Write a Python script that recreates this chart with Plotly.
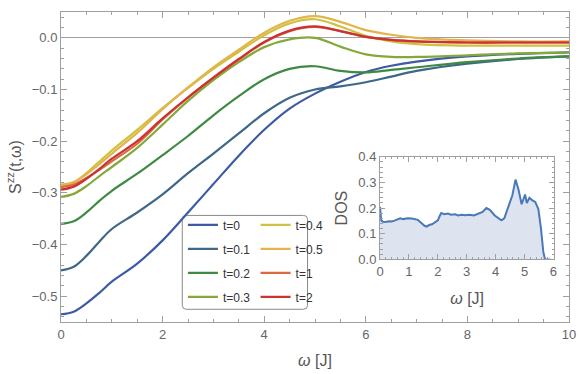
import plotly.graph_objects as go

# S^zz(t, w) curves
omega = [0, 0.25, 0.5, 0.75, 1, 1.5, 2, 2.5, 3, 3.5, 4, 4.5, 5, 5.5, 6, 6.5, 7, 8, 9, 10]

s_t0 = [-0.535, -0.53, -0.514, -0.494, -0.472, -0.437, -0.392, -0.338, -0.283, -0.228, -0.178, -0.137, -0.108, -0.085, -0.066, -0.054, -0.046, -0.036, -0.031, -0.028]
s_t01 = [-0.45, -0.443, -0.422, -0.395, -0.37, -0.338, -0.303, -0.262, -0.224, -0.185, -0.146, -0.116, -0.1, -0.094, -0.086, -0.075, -0.064, -0.05, -0.041, -0.036]
s_t02 = [-0.36, -0.355, -0.338, -0.316, -0.296, -0.263, -0.227, -0.19, -0.15, -0.113, -0.08, -0.06, -0.055, -0.064, -0.067, -0.062, -0.057, -0.047, -0.04, -0.036]
s_t03 = [-0.308, -0.302, -0.287, -0.268, -0.25, -0.213, -0.168, -0.122, -0.082, -0.047, -0.018, -0.003, 0.0, -0.017, -0.032, -0.037, -0.037, -0.034, -0.03, -0.028]
s_t04 = [-0.287, -0.28, -0.262, -0.24, -0.218, -0.178, -0.136, -0.097, -0.06, -0.027, 0.005, 0.028, 0.036, 0.022, 0.004, -0.007, -0.012, -0.015, -0.015, -0.015]
s_t05 = [-0.284, -0.279, -0.264, -0.245, -0.224, -0.184, -0.138, -0.096, -0.057, -0.023, 0.01, 0.033, 0.042, 0.031, 0.015, 0.006, 0.0, -0.005, -0.007, -0.007]
s_t1 = [-0.289, -0.284, -0.271, -0.256, -0.239, -0.205, -0.158, -0.116, -0.077, -0.042, -0.009, 0.013, 0.021, 0.013, 0.002, -0.004, -0.007, -0.009, -0.009, -0.009]
s_t2 = [-0.294, -0.288, -0.273, -0.254, -0.234, -0.2, -0.156, -0.115, -0.077, -0.041, -0.008, 0.014, 0.022, 0.013, 0.002, -0.004, -0.007, -0.009, -0.009, -0.009]

labels = ["t=0", "t=0.1", "t=0.2", "t=0.3", "t=0.4", "t=0.5", "t=1", "t=2"]
colors = ["#3c5aa6", "#3f6787", "#3f8a43", "#85a83b", "#cec23f", "#e3b34c", "#dc693f", "#cb3232"]
series = [s_t0, s_t01, s_t02, s_t03, s_t04, s_t05, s_t1, s_t2]

# density of states (inset)
dos_w = [0, 0.04, 0.1, 0.2, 0.3, 0.4, 0.5, 0.6, 0.7, 0.8, 0.96, 1.1, 1.2, 1.31, 1.45, 1.54, 1.62, 1.7, 1.8, 1.89, 2.0, 2.06, 2.12, 2.22, 2.35, 2.45, 2.6, 2.7, 2.82, 2.95, 3.1, 3.25, 3.4, 3.55, 3.68, 3.8, 3.97, 4.1, 4.2, 4.3, 4.44, 4.58, 4.69, 4.79, 4.9, 5.02, 5.08, 5.17, 5.25, 5.37, 5.48, 5.57, 5.65, 5.71, 5.8, 5.9]
dos = [0.205, 0.152, 0.147, 0.146, 0.149, 0.148, 0.151, 0.156, 0.16, 0.157, 0.16, 0.159, 0.157, 0.154, 0.14, 0.131, 0.128, 0.134, 0.137, 0.143, 0.152, 0.168, 0.181, 0.176, 0.179, 0.174, 0.176, 0.171, 0.174, 0.172, 0.174, 0.171, 0.177, 0.185, 0.2, 0.193, 0.171, 0.162, 0.152, 0.16, 0.203, 0.25, 0.311, 0.273, 0.215, 0.253, 0.22, 0.24, 0.232, 0.224, 0.196, 0.12, 0.03, 0.0, 0.0, 0.0]

fig = go.Figure()

for i in range(len(series)):
    leg = "legend" if i < 4 else "legend2"
    fig.add_trace(go.Scatter(x=omega, y=series[i], mode="lines", name=labels[i],
                             line=dict(color=colors[i], width=2.2, shape="spline", smoothing=1.0),
                             legend=leg, legendgroup=labels[i]))

fig.add_trace(go.Scatter(x=dos_w, y=dos, mode="lines", fill="tozeroy",
                         fillcolor="rgba(180,195,222,0.45)",
                         line=dict(color="#4a78b8", width=2), showlegend=False,
                         xaxis="x2", yaxis="y2"))

tick_font = dict(family="Liberation Sans, Arial, sans-serif", size=13, color="#666666")
frame = "#a0a0a0"

fig.update_layout(
    width=581, height=374,
    margin=dict(l=61, r=9, t=5, b=52),
    paper_bgcolor="white", plot_bgcolor="white",
    font=dict(family="Liberation Sans, Arial, sans-serif", size=13, color="#555555"),
    xaxis=dict(range=[0, 10], dtick=2, tick0=0, ticks="inside", ticklen=6, tickcolor=frame,
               minor=dict(dtick=0.5, ticks="inside", ticklen=3, tickcolor=frame),
               showline=True, linecolor=frame, linewidth=1, mirror="ticks",
               showgrid=False, zeroline=False, tickfont=tick_font,
               title=dict(text="<i>ω</i> [J]", standoff=14)),
    yaxis=dict(range=[-0.55, 0.05], dtick=0.1, tick0=0, tickformat=".1f", ticks="inside",
               ticklen=6, tickcolor=frame,
               minor=dict(dtick=0.02, ticks="inside", ticklen=3, tickcolor=frame),
               showline=True, linecolor=frame, linewidth=1, mirror="ticks",
               showgrid=False, zeroline=True, zerolinecolor="#a0a0a0", zerolinewidth=1,
               tickfont=tick_font,
               title=dict(text="S<sup>zz</sup>(t,ω)", standoff=6)),
    xaxis2=dict(domain=[0.628, 0.971], anchor="y2", range=[0, 6.03], dtick=1, tick0=0,
                ticks="inside", ticklen=5, tickcolor=frame,
                minor=dict(dtick=0.2, ticks="inside", ticklen=2.5, tickcolor=frame),
                showline=True, linecolor=frame, mirror="ticks", showgrid=False,
                zeroline=False, tickfont=tick_font,
                title=dict(text="<i>ω</i> [J]", standoff=14)),
    yaxis2=dict(domain=[0.202, 0.533], anchor="x2", range=[0, 0.4], dtick=0.1,
                tickformat=".1f", ticks="inside", ticklen=5, tickcolor=frame,
                minor=dict(dtick=0.02, ticks="inside", ticklen=2.5, tickcolor=frame),
                showline=True, linecolor=frame, mirror="ticks", showgrid=False,
                zeroline=False, tickfont=tick_font,
                title=dict(text="DOS", standoff=6)),
    legend=dict(x=0.24, y=0.36, xanchor="left", yanchor="top", bgcolor="rgba(0,0,0,0)",
                font=dict(size=12, color="#333333"), tracegroupgap=5, itemwidth=30),
    legend2=dict(x=0.383, y=0.36, xanchor="left", yanchor="top", bgcolor="rgba(0,0,0,0)",
                 font=dict(size=12, color="#333333"), tracegroupgap=5, itemwidth=30),
)

# rounded frame around both legend columns, given in pixels of the plot area
x0, x1, y0, y1, r = 183, 309, 213, 309, 4
px = lambda v: (v - 61) / 511
py = lambda v: (322 - v) / 317
path = ("M {a},{b} L {c},{b} Q {d},{b} {d},{e} L {d},{f} Q {d},{g} {c},{g} "
        "L {a},{g} Q {h},{g} {h},{f} L {h},{e} Q {h},{b} {a},{b} Z").format(
    a=px(x0 + r), b=py(y0), c=px(x1 - r), d=px(x1), e=py(y0 + r), f=py(y1 - r),
    g=py(y1), h=px(x0))
fig.add_shape(type="path", xref="paper", yref="paper", path=path,
              line=dict(color="#8a8a8a", width=1), fillcolor="white", layer="below")

fig.write_html("out.html", config={"displayModeBar": False},
               post_script="document.body.style.margin='0px';")
